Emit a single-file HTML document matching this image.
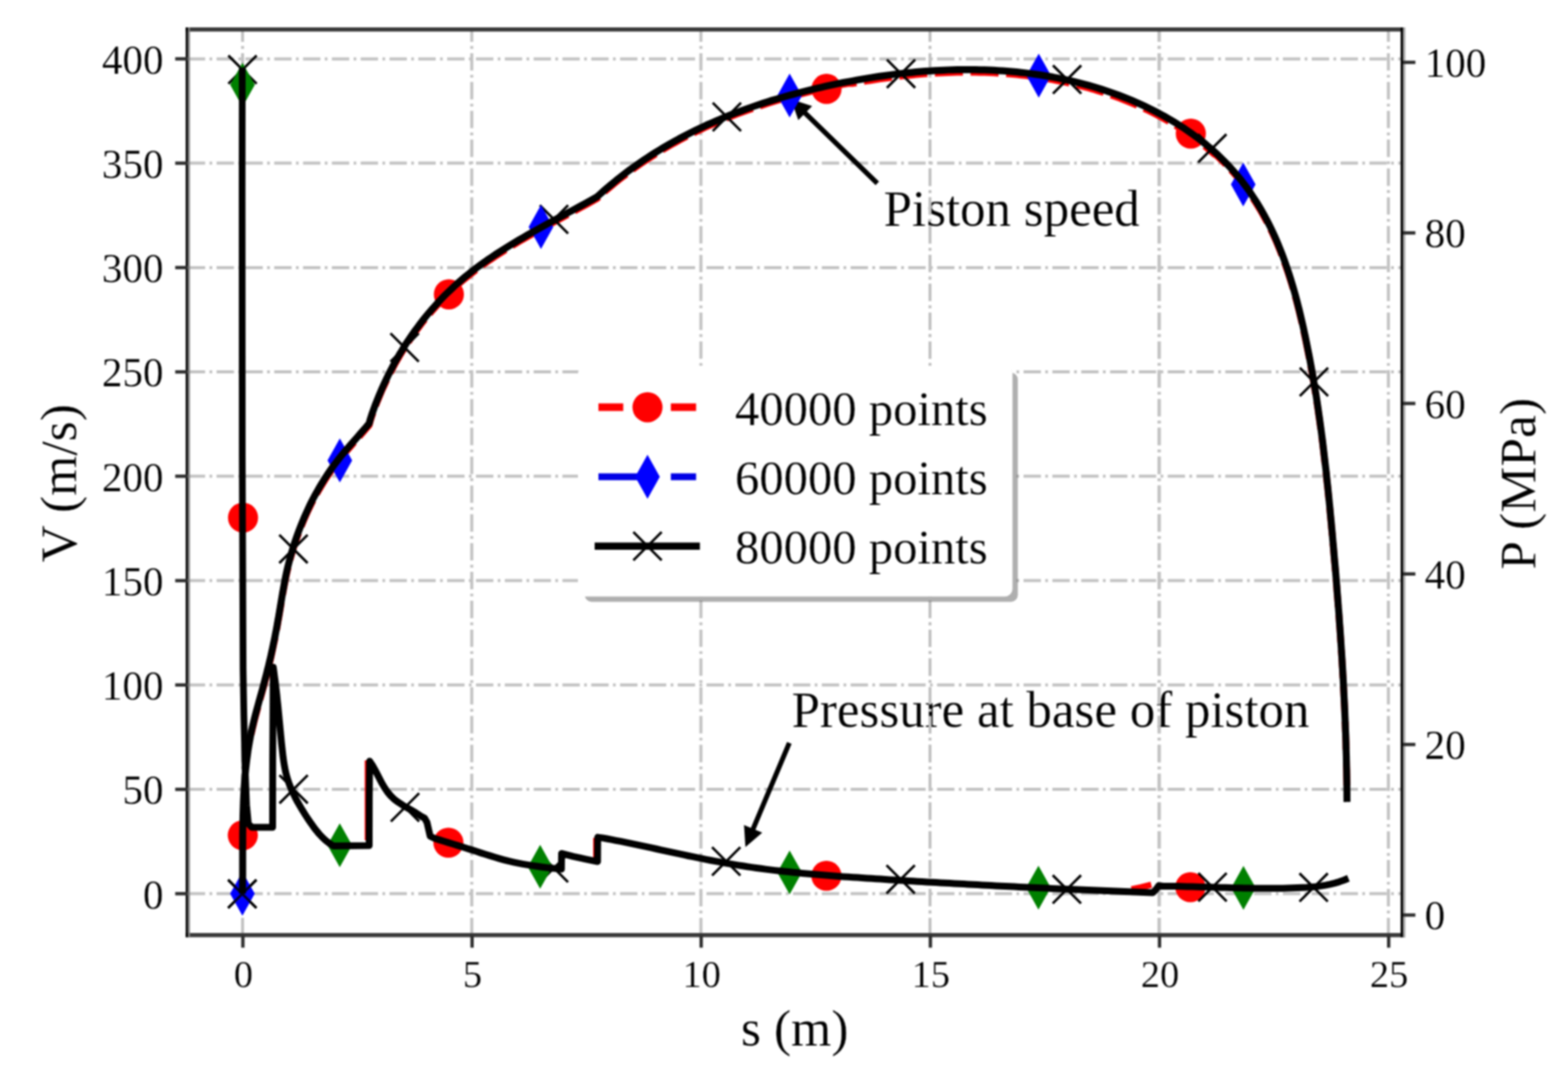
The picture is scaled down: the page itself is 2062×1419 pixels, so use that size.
<!DOCTYPE html>
<html lang="en"><head><meta charset="utf-8"><title>Piston speed and pressure at base of piston</title>
<style>html,body{margin:0;padding:0;background:#fff;}body{width:2062px;height:1419px;overflow:hidden;}svg{display:block;filter:blur(1.1px);}text{font-family:"Liberation Serif","Times New Roman",serif;fill:#000;stroke:#fff;stroke-width:0.25px;}</style>
</head><body>
<svg width="2062" height="1419" viewBox="0 0 2062 1419" role="img" aria-label="Piston speed and pressure at base of piston versus position">
<rect x="-20" y="-20" width="2102" height="1459" fill="#fff"/>
<g fill="none" stroke="#c2c2c2" stroke-width="4.0" stroke-dasharray="22.88 5.72 3.58 5.72">
<path d="M319 1229.8 V38.7"/>
<path d="M620.4 1229.8 V38.7"/>
<path d="M921.7 1229.8 V38.7"/>
<path d="M1223 1229.8 V38.7"/>
<path d="M1524.4 1229.8 V38.7"/>
<path d="M1825.8 1229.8 V38.7"/>
<path d="M246.9 1175.3 H1844.8"/>
<path d="M246.9 1038.1 H1844.8"/>
<path d="M246.9 900.8 H1844.8"/>
<path d="M246.9 763.6 H1844.8"/>
<path d="M246.9 626.3 H1844.8"/>
<path d="M246.9 489.1 H1844.8"/>
<path d="M246.9 351.9 H1844.8"/>
<path d="M246.9 214.6 H1844.8"/>
<path d="M246.9 77.4 H1844.8"/>
</g>
<g font-size="67">
<text x="1162" y="297.3">Piston speed</text>
<text x="1041" y="956.2">Pressure at base of piston</text>
</g>
<g fill="none" stroke="#c2c2c2" stroke-width="4.0" stroke-dasharray="22.88 5.72 3.58 5.72">
<path d="M1223 1229.8 V38.7"/>
<path d="M1524.4 1229.8 V38.7"/>
</g>
<g fill="none" stroke-linejoin="round" stroke="#ff0000" stroke-width="9">
<path d="M330.3 965.7 L331.6 959.8 L333 953.9 L334.4 948 L335.9 942.1 L337.5 936.2 L339.1 930.3 L340.7 924.5 L342.3 918.6 L344 912.7 L345.6 906.9 L347.2 901 L348.7 895.1 L350.3 889.2 L351.7 883.4 L353.2 877.5 L354.6 871.6 L356 865.7 L357.3 859.7 L358.6 853.8 L359.8 847.9 L361.1 842 L362.2 836 L363.4 830.1 L364.5 824.1 L365.5 818.1 L366.6 812.2 L367.6 806.2 L368.6 800.2 L369.6 794.2 L370.6 788.2 L371.6 782.3 L372.7 776.3 L373.8 770.3 L374.9 764.4 L376.1 758.4 L377.4 752.5 L378.8 746.6 L380.3 740.7 L381.8 734.8 L383.5 728.9 L385.2 723.1 L387 717.3 L389 711.5 L391 705.8 L393.1 700 L395.3 694.3 L397.6 688.7 L399.9 683.1 L402.4 677.5 L404.9 672 L407.5 666.5 L410.2 661.1 L413 655.7 L415.9 650.4 L418.9 645.1 L422 639.9 L425.1 634.8 L428.3 629.7 L431.7 624.6 L435.1 619.6 L438.6 614.7 L442.3 609.9 L446 605.1 L449.8 600.4 L453.7 595.7 L457.6 591.1 L461.6 586.5 L465.6 581.9 L469.6 577.4 L473.6 572.8 L477.6 568.2 L481.6 563.6 L485.5 559 L487.1 553 L489 547.1 L491.1 541.3 L493.2 535.5 L495.5 529.7 L497.8 524 L500.2 518.3 L502.6 512.6 L505.2 507 L507.8 501.4 L510.5 495.8 L513.2 490.3 L516.1 484.9 L519 479.4 L522 474.1 L525.1 468.7 L528.3 463.5 L531.5 458.2 L534.8 453 L538.2 447.9 L541.7 442.8 L545.2 437.8 L548.9 432.9 L552.5 428 L556.3 423.1 L560.1 418.3 L564 413.6 L568 409 L572.1 404.4 L576.2 399.9 L580.4 395.4 L584.6 391 L589 386.7 L593.4 382.5 L597.8 378.3 L602.4 374.2 L607 370.2 L611.6 366.3 L616.4 362.4 L621.2 358.6 L626 354.9 L631 351.3 L635.9 347.7 L640.9 344.1 L646 340.7 L651.1 337.2 L656.3 333.9 L661.5 330.6 L666.7 327.3 L671.9 324.1 L677.2 320.9 L682.5 317.7 L687.9 314.6 L693.2 311.5 L698.6 308.5 L704 305.4 L709.4 302.4 L714.8 299.4 L720.2 296.5 L725.7 293.5 L731.1 290.6 L736.5 287.7 L741.9 284.8 L747.3 281.8 L752.7 278.9 L758.1 276 L763.5 273.1 L768.8 270.2 L774.2 267.2 L779.5 264.3 L784.8 261.3 L789.3 257.3 L793.9 253.2 L798.5 249.2 L803.2 245.3 L807.9 241.4 L812.6 237.5 L817.4 233.8 L822.2 230.1 L827 226.5 L831.9 222.9 L836.8 219.4 L841.8 215.9 L846.8 212.5 L851.8 209.2 L856.9 205.9 L862 202.7 L867.1 199.6 L872.2 196.5 L877.4 193.4 L882.6 190.4 L887.9 187.5 L893.1 184.6 L898.4 181.8 L903.8 179 L909.1 176.3 L914.5 173.7 L919.9 171.1 L925.3 168.5 L930.8 166 L936.3 163.6 L941.8 161.2 L947.3 158.8 L952.9 156.5 L958.4 154.2 L964 152 L969.6 149.9 L975.3 147.8 L980.9 145.7 L986.6 143.7 L992.3 141.7 L998 139.8 L1003.7 137.9 L1009.5 136 L1015.2 134.2 L1021 132.5 L1026.8 130.8 L1032.6 129.1 L1038.4 127.5 L1044.2 125.9 L1050.1 124.3 L1055.9 122.8 L1061.8 121.3 L1067.7 119.9 L1073.6 118.5 L1079.5 117.1 L1085.4 115.8 L1091.3 114.5 L1097.2 113.2 L1103.1 112 L1109 110.8 L1115 109.7 L1120.9 109.8 L1126.9 108.7 L1132.8 107.6 L1138.8 106.6 L1144.8 105.7 L1150.7 104.7 L1156.7 103.8 L1162.7 103 L1168.7 102.2 L1174.6 101.4 L1180.6 100.6 L1186.6 99.9 L1192.6 99.3 L1198.6 98.7 L1204.6 98.1 L1210.6 97.6 L1216.6 97.1 L1222.6 96.7 L1228.6 96.3 L1234.7 96 L1240.7 95.7 L1246.7 95.4 L1252.7 95.2 L1258.7 95.1 L1264.7 95 L1270.7 95 L1276.8 95 L1282.8 95 L1288.8 95.2 L1294.8 95.3 L1300.8 95.6 L1306.8 95.8 L1312.9 96.2 L1318.9 96.6 L1324.9 97 L1330.9 97.5 L1336.9 98.1 L1342.9 98.7 L1348.9 99.4 L1354.8 100.2 L1360.8 101 L1366.8 101.8 L1372.7 102.8 L1378.7 103.8 L1384.6 104.8 L1390.5 106 L1396.4 107.1 L1402.3 108.4 L1408.2 109.7 L1414.1 111.1 L1419.9 112.6 L1425.7 114.1 L1431.6 115.7 L1437.3 117.3 L1443.1 119.1 L1448.9 120.9 L1454.6 122.7 L1460.3 124.7 L1466 126.7 L1471.7 128.8 L1477.3 131 L1482.9 133.2 L1488.5 135.5 L1494 137.9 L1499.6 140.4 L1505.1 142.9 L1510.5 145.5 L1516 148.2 L1521.4 151 L1526.7 153.9 L1532 156.8 L1537.3 159.8 L1542.5 162.9 L1547.7 166.1 L1552.8 169.3 L1557.9 172.6 L1562.9 176.1 L1567.8 179.5 L1572.7 183.1 L1577.5 186.8 L1582.3 190.5 L1587 194.3 L1591.6 198.2 L1596.1 202.2 L1600.6 205 L1604.9 209.2 L1609.2 213.4 L1613.4 217.7 L1617.5 222.1 L1621.5 226.5 L1625.5 231.1 L1629.3 235.7 L1633.1 240.4 L1636.7 245.2 L1640.3 250 L1643.8 254.9 L1647.1 259.9 L1650.4 264.9 L1653.6 270 L1656.7 275.1 L1659.7 280.3 L1662.6 285.5 L1665.5 290.8 L1668.2 296.1 L1670.9 301.5 L1673.5 306.9 L1676 312.3 L1678.4 317.8 L1680.7 323.3 L1683 328.9 L1685.2 334.5 L1687.4 340.1 L1689.4 345.8 L1691.4 351.5 L1693.4 357.2 L1695.3 363 L1697.1 368.7 L1698.9 374.5 L1700.6 380.3 L1702.3 386.2 L1703.9 392 L1705.5 397.9 L1707 403.8 L1708.5 409.7 L1709.9 415.6 L1711.3 421.5 L1712.7 427.4 L1714 433.3 L1715.3 439.3 L1716.6 445.2 L1717.8 451.1 L1719 457.1 L1720.2 463 L1721.4 469 L1722.5 474.9 L1723.6 480.8 L1724.7 486.8 L1725.8 492.7 L1726.8 498.7 L1727.8 504.6 L1728.8 510.6 L1729.8 516.5 L1730.8 522.5 L1731.7 528.4 L1732.6 534.4 L1733.5 540.3 L1734.3 546.3 L1735.2 552.2 L1736 558.2 L1736.8 564.1 L1737.6 570.1 L1738.4 576.1 L1739.2 582 L1739.9 588 L1740.6 594 L1741.3 599.9 L1742 605.9 L1742.7 611.9 L1743.4 617.9 L1744.1 623.8 L1744.7 629.8 L1745.3 635.8 L1746 641.8 L1746.6 647.8 L1747.2 653.7 L1747.8 659.7 L1748.4 665.7 L1749 671.7 L1749.5 677.7 L1750.1 683.7 L1750.7 689.7 L1751.2 695.7 L1751.8 701.7 L1752.3 707.7 L1752.8 713.7 L1753.4 719.7 L1753.9 725.7 L1754.4 731.7 L1754.9 737.7 L1755.5 743.7 L1756 749.7 L1756.5 755.7 L1757 761.7 L1757.5 767.8 L1758 773.8 L1758.4 779.8 L1758.9 785.8 L1759.4 791.8 L1759.8 797.9 L1760.3 803.9 L1760.8 809.9 L1761.2 815.9 L1761.6 822 L1762.1 828 L1762.5 834 L1762.9 840 L1763.3 846.1 L1763.7 852.1 L1764.1 858.1 L1764.5 864.2 L1764.9 870.2 L1765.2 876.2 L1765.6 882.2 L1765.9 888.3 L1766.3 894.3 L1766.6 900.3 L1766.9 906.4 L1767.2 912.4 L1767.5 918.4 L1767.8 924.5 L1768.1 930.5 L1768.4 936.5 L1768.6 942.5 L1768.9 948.6 L1769.1 954.6 L1769.3 960.6 L1769.6 966.7 L1769.8 972.7 L1770 978.7 L1770.1 984.7 L1770.3 990.8 L1770.5 996.8 L1770.6 1002.8 L1770.7 1008.8 L1770.9 1014.8 L1771 1020.9 L1771.1 1026.9 L1771.2 1032.9 L1771.2 1038.9" stroke-dasharray="37 10"/>
<path d="M1488 1169.5 L1500 1167 L1514 1163.5" stroke-width="8"/>
<path d="M483.6 1105 V1000 M784 1128 V1102" stroke-width="8"/>
</g>
<g fill="#ff0000">
<circle cx="319.3" cy="1098.5" r="19.8"/>
<circle cx="590.3" cy="387.1" r="19.8"/>
<circle cx="1086.9" cy="116.9" r="19.8"/>
<circle cx="1566" cy="175.7" r="19.8"/>
<circle cx="319.6" cy="680.8" r="19.8"/>
<circle cx="589.7" cy="1108.2" r="19.8"/>
<circle cx="1086.8" cy="1151.8" r="19.8"/>
<circle cx="1565.4" cy="1166.7" r="19.8"/>
</g>
<path d="M1153.7 241.2 L1058.2 148.1" stroke="#000" stroke-width="6.5" fill="none"/><path d="M1040.3 130.6 L1068 139.4 L1049.8 158.1Z" fill="#000"/>
<path d="M1038 977 L990 1090.9" stroke="#000" stroke-width="6.5" fill="none"/><path d="M980.3 1113.9 L978.4 1084.9 L1002.4 1095Z" fill="#000"/>
<path fill="none" stroke="#000" stroke-width="3.3" d="M300 1157 L337.2 1194.2 M300 1194.2 L337.2 1157 M367.3 703.3 L404.5 740.5 M367.3 740.5 L404.5 703.3 M513.5 438.4 L550.7 475.6 M513.5 475.6 L550.7 438.4 M709.9 269.9 L747.1 307.1 M709.9 307.1 L747.1 269.9 M937.3 135.2 L974.5 172.4 M937.3 172.4 L974.5 135.2 M1166.3 78.3 L1203.5 115.5 M1166.3 115.5 L1203.5 78.3 M1384.7 86 L1421.9 123.2 M1384.7 123.2 L1421.9 86 M1575.6 176.5 L1612.8 213.7 M1575.6 213.7 L1612.8 176.5 M1709.3 483.7 L1746.5 520.9 M1709.3 520.9 L1746.5 483.7 M300.3 73 L337.5 110.2 M300.3 110.2 L337.5 73 M367.5 1019.3 L404.7 1056.5 M367.5 1056.5 L404.7 1019.3 M514 1043.1 L551.2 1080.3 M514 1080.3 L551.2 1043.1 M709.8 1122.9 L747 1160.1 M709.8 1160.1 L747 1122.9 M936.4 1114.1 L973.6 1151.3 M936.4 1151.3 L973.6 1114.1 M1165.8 1137.8 L1203 1175 M1165.8 1175 L1203 1137.8 M1384.4 1151 L1421.6 1188.2 M1384.4 1188.2 L1421.6 1151 M1575.9 1148.1 L1613.1 1185.3 M1575.9 1185.3 L1613.1 1148.1 M1708.9 1148.5 L1746.1 1185.7 M1708.9 1185.7 L1746.1 1148.5"/>
<path fill="#0000ff" d="M318.8 1146.4 L335 1175.3 L318.8 1204.2 L302.6 1175.3Z M446.9 576.6 L463.1 605.5 L446.9 634.4 L430.7 605.5Z M711.4 269.6 L727.6 298.5 L711.4 327.4 L695.2 298.5Z M1038.4 96.8 L1054.6 125.7 L1038.4 154.6 L1022.2 125.7Z M1366 70.6 L1382.2 99.5 L1366 128.4 L1349.8 99.5Z M1634.9 213.7 L1651.1 242.6 L1634.9 271.5 L1618.7 242.6Z"/>
<path fill="#008000" d="M318.9 82.6 L335.1 111.5 L318.9 140.4 L302.7 111.5Z M446.8 1082.7 L463 1111.6 L446.8 1140.5 L430.6 1111.6Z M710.3 1111 L726.5 1139.9 L710.3 1168.8 L694.1 1139.9Z M1038.4 1118.4 L1054.6 1147.3 L1038.4 1176.2 L1022.2 1147.3Z M1365.6 1138.4 L1381.8 1167.3 L1365.6 1196.2 L1349.4 1167.3Z M1635.2 1138.8 L1651.4 1167.7 L1635.2 1196.6 L1619 1167.7Z"/>
<g fill="none" stroke="#000" stroke-width="9.2" stroke-linejoin="round" stroke-linecap="butt">
<path d="M318.8 1175.2 L318.9 1169.2 L319 1163.2 L319 1157.1 L319.1 1151.1 L319.1 1145 L319.1 1139 L319.1 1132.9 L319.1 1126.8 L319.1 1120.7 L319.1 1114.6 L319.2 1108.6 L319.2 1102.5 L319.2 1096.4 L319.3 1090.3 L319.4 1084.2 L319.5 1078.1 L319.6 1072 L319.8 1065.9 L320 1059.8 L320.2 1053.8 L320.5 1047.7 L320.8 1041.6 L321.1 1035.6 L321.6 1029.5 L322 1023.4 L322.5 1017.4 L323.1 1011.4 L323.8 1005.3 L324.5 999.3 L325.3 993.3 L326.1 987.3 L327.1 981.3 L328.1 975.4 L329.2 969.4 L330.3 963.5 L331.6 957.6 L333 951.7 L334.4 945.8 L335.9 939.9 L337.5 934 L339.1 928.1 L340.7 922.3 L342.3 916.4 L344 910.5 L345.6 904.7 L347.2 898.8 L348.7 892.9 L350.3 887 L351.7 881.2 L353.2 875.3 L354.6 869.4 L356 863.5 L357.3 857.5 L358.6 851.6 L359.8 845.7 L361.1 839.8 L362.2 833.8 L363.4 827.9 L364.5 821.9 L365.5 815.9 L366.6 810 L367.6 804 L368.6 798 L369.6 792 L370.6 786 L371.6 780.1 L372.7 774.1 L373.8 768.1 L374.9 762.2 L376.1 756.2 L377.4 750.3 L378.8 744.4 L380.3 738.5 L381.8 732.6 L383.5 726.7 L385.2 720.9 L387 715.1 L389 709.3 L391 703.6 L393.1 697.8 L395.3 692.1 L397.6 686.5 L399.9 680.9 L402.4 675.3 L404.9 669.8 L407.5 664.3 L410.2 658.9 L413 653.5 L415.9 648.2 L418.9 642.9 L422 637.7 L425.1 632.6 L428.3 627.5 L431.7 622.4 L435.1 617.4 L438.6 612.5 L442.3 607.7 L446 602.9 L449.8 598.2 L453.7 593.5 L457.6 588.9 L461.6 584.3 L465.6 579.7 L469.6 575.2 L473.6 570.6 L477.6 566 L481.6 561.4 L485.5 556.8 L487.1 550.8 L489 544.9 L491.1 539.1 L493.2 533.3 L495.5 527.5 L497.8 521.8 L500.2 516.1 L502.6 510.4 L505.2 504.8 L507.8 499.2 L510.5 493.6 L513.2 488.1 L516.1 482.7 L519 477.2 L522 471.9 L525.1 466.5 L528.3 461.3 L531.5 456 L534.8 450.8 L538.2 445.7 L541.7 440.6 L545.2 435.6 L548.9 430.7 L552.5 425.8 L556.3 420.9 L560.1 416.1 L564 411.4 L568 406.8 L572.1 402.2 L576.2 397.7 L580.4 393.2 L584.6 388.8 L589 384.5 L593.4 380.3 L597.8 376.1 L602.4 372 L607 368 L611.6 364.1 L616.4 360.2 L621.2 356.4 L626 352.7 L631 349.1 L635.9 345.5 L640.9 341.9 L646 338.5 L651.1 335 L656.3 331.7 L661.5 328.4 L666.7 325.1 L671.9 321.9 L677.2 318.7 L682.5 315.5 L687.9 312.4 L693.2 309.3 L698.6 306.3 L704 303.2 L709.4 300.2 L714.8 297.2 L720.2 294.3 L725.7 291.3 L731.1 288.4 L736.5 285.5 L741.9 282.6 L747.3 279.6 L752.7 276.7 L758.1 273.8 L763.5 270.9 L768.8 268 L774.2 265 L779.5 262.1 L784.8 259.1 L789.3 255.1 L793.9 251 L798.5 247 L803.2 243.1 L807.9 239.2 L812.6 235.3 L817.4 231.6 L822.2 227.9 L827 224.3 L831.9 220.7 L836.8 217.2 L841.8 213.7 L846.8 210.3 L851.8 207 L856.9 203.7 L862 200.5 L867.1 197.4 L872.2 194.3 L877.4 191.2 L882.6 188.2 L887.9 185.3 L893.1 182.4 L898.4 179.6 L903.8 176.8 L909.1 174.1 L914.5 171.5 L919.9 168.9 L925.3 166.3 L930.8 163.8 L936.3 161.4 L941.8 159 L947.3 156.6 L952.9 154.3 L958.4 152 L964 149.8 L969.6 147.7 L975.3 145.6 L980.9 143.5 L986.6 141.5 L992.3 139.5 L998 137.6 L1003.7 135.7 L1009.5 133.8 L1015.2 132 L1021 130.3 L1026.8 128.6 L1032.6 126.9 L1038.4 125.3 L1044.2 123.7 L1050.1 122.1 L1055.9 120.6 L1061.8 119.1 L1067.7 117.7 L1073.6 116.3 L1079.5 114.9 L1085.4 113.6 L1091.3 112.3 L1097.2 111 L1103.1 109.8 L1109 108.6 L1115 107.5 L1120.9 106.4 L1126.9 105.3 L1132.8 104.2 L1138.8 103.2 L1144.8 102.3 L1150.7 101.3 L1156.7 100.4 L1162.7 99.6 L1168.7 98.8 L1174.6 98 L1180.6 97.2 L1186.6 96.5 L1192.6 95.9 L1198.6 95.3 L1204.6 94.7 L1210.6 94.2 L1216.6 93.7 L1222.6 93.3 L1228.6 92.9 L1234.7 92.6 L1240.7 92.3 L1246.7 92 L1252.7 91.8 L1258.7 91.7 L1264.7 91.6 L1270.7 91.6 L1276.8 91.6 L1282.8 91.6 L1288.8 91.8 L1294.8 91.9 L1300.8 92.2 L1306.8 92.4 L1312.9 92.8 L1318.9 93.2 L1324.9 93.6 L1330.9 94.1 L1336.9 94.7 L1342.9 95.3 L1348.9 96 L1354.8 96.8 L1360.8 97.6 L1366.8 98.4 L1372.7 99.4 L1378.7 100.4 L1384.6 101.4 L1390.5 102.6 L1396.4 103.7 L1402.3 105 L1408.2 106.3 L1414.1 107.7 L1419.9 109.2 L1425.7 110.7 L1431.6 112.3 L1437.3 113.9 L1443.1 115.7 L1448.9 117.5 L1454.6 119.3 L1460.3 121.3 L1466 123.3 L1471.7 125.4 L1477.3 127.6 L1482.9 129.8 L1488.5 132.1 L1494 134.5 L1499.6 137 L1505.1 139.5 L1510.5 142.1 L1516 144.8 L1521.4 147.6 L1526.7 150.5 L1532 153.4 L1537.3 156.4 L1542.5 159.5 L1547.7 162.7 L1552.8 165.9 L1557.9 169.2 L1562.9 172.7 L1567.8 176.1 L1572.7 179.7 L1577.5 183.4 L1582.3 187.1 L1587 190.9 L1591.6 194.8 L1596.1 198.8 L1600.6 202.8 L1604.9 207 L1609.2 211.2 L1613.4 215.5 L1617.5 219.9 L1621.5 224.3 L1625.5 228.9 L1629.3 233.5 L1633.1 238.2 L1636.7 243 L1640.3 247.8 L1643.8 252.7 L1647.1 257.7 L1650.4 262.7 L1653.6 267.8 L1656.7 272.9 L1659.7 278.1 L1662.6 283.3 L1665.5 288.6 L1668.2 293.9 L1670.9 299.3 L1673.5 304.7 L1676 310.1 L1678.4 315.6 L1680.7 321.1 L1683 326.7 L1685.2 332.3 L1687.4 337.9 L1689.4 343.6 L1691.4 349.3 L1693.4 355 L1695.3 360.8 L1697.1 366.5 L1698.9 372.3 L1700.6 378.1 L1702.3 384 L1703.9 389.8 L1705.5 395.7 L1707 401.6 L1708.5 407.5 L1709.9 413.4 L1711.3 419.3 L1712.7 425.2 L1714 431.1 L1715.3 437.1 L1716.6 443 L1717.8 448.9 L1719 454.9 L1720.2 460.8 L1721.4 466.8 L1722.5 472.7 L1723.6 478.6 L1724.7 484.6 L1725.8 490.5 L1726.8 496.5 L1727.8 502.4 L1728.8 508.4 L1729.8 514.3 L1730.8 520.3 L1731.7 526.2 L1732.6 532.2 L1733.5 538.1 L1734.3 544.1 L1735.2 550 L1736 556 L1736.8 561.9 L1737.6 567.9 L1738.4 573.9 L1739.2 579.8 L1739.9 585.8 L1740.6 591.8 L1741.3 597.7 L1742 603.7 L1742.7 609.7 L1743.4 615.7 L1744.1 621.6 L1744.7 627.6 L1745.3 633.6 L1746 639.6 L1746.6 645.6 L1747.2 651.5 L1747.8 657.5 L1748.4 663.5 L1749 669.5 L1749.5 675.5 L1750.1 681.5 L1750.7 687.5 L1751.2 693.5 L1751.8 699.5 L1752.3 705.5 L1752.8 711.5 L1753.4 717.5 L1753.9 723.5 L1754.4 729.5 L1754.9 735.5 L1755.5 741.5 L1756 747.5 L1756.5 753.5 L1757 759.5 L1757.5 765.6 L1758 771.6 L1758.4 777.6 L1758.9 783.6 L1759.4 789.6 L1759.8 795.7 L1760.3 801.7 L1760.8 807.7 L1761.2 813.7 L1761.6 819.8 L1762.1 825.8 L1762.5 831.8 L1762.9 837.8 L1763.3 843.9 L1763.7 849.9 L1764.1 855.9 L1764.5 862 L1764.9 868 L1765.2 874 L1765.6 880 L1765.9 886.1 L1766.3 892.1 L1766.6 898.1 L1766.9 904.2 L1767.2 910.2 L1767.5 916.2 L1767.8 922.3 L1768.1 928.3 L1768.4 934.3 L1768.6 940.3 L1768.9 946.4 L1769.1 952.4 L1769.3 958.4 L1769.6 964.5 L1769.8 970.5 L1770 976.5 L1770.1 982.5 L1770.3 988.6 L1770.5 994.6 L1770.6 1000.6 L1770.7 1006.6 L1770.9 1012.6 L1771 1018.7 L1771.1 1024.7 L1771.2 1030.7 L1771.2 1036.7 L1771.3 1042.7 L1771.3 1048.7 L1771.4 1054.7"/>
<path d="M318.6 88.5 L318.4 250 L318.6 600 L319.7 880 L320.7 940 L322.3 1010 L324.3 1060" stroke-width="8.8"/>
<path d="M324.3 1060 L326.5 1083 L331 1088 L358.5 1088 L358.6 1000 L359.4 877.5 L360.2 883.7 L361 889.9 L361.9 896.1 L362.6 902.3 L363.4 908.6 L364.1 914.8 L364.7 921 L365.4 927.3 L366 933.5 L366.6 939.7 L367.2 946 L367.8 952.2 L368.4 958.5 L369 964.7 L369.6 970.9 L370.2 977.2 L370.9 983.4 L371.6 989.7 L372.3 995.9 L373.2 1002.1 L374.2 1008.2 L375.4 1014.3 L376.9 1020.3 L378.7 1026.3 L380.8 1032.2 L383.1 1037.9 L385.7 1043.6 L388.5 1049.3 L391.4 1054.8 L394.6 1060.3 L397.8 1065.7 L401.2 1071.1 L404.6 1076.4 L408.2 1081.6 L411.8 1086.7 L415.5 1091.7 L419.5 1096.5 L423.7 1101 L428.2 1105.2 L433.1 1109.1 L438.4 1112.5 L485.5 1112 L485.6 1050 L486.1 1001 L489.8 1006.5 L493.1 1012.4 L496.2 1018.4 L499.3 1024.4 L502.4 1030.3 L505.8 1036 L509.5 1041.5 L513.7 1046.5 L518.4 1051.1 L523.8 1055.1 L529.5 1058.8 L535.5 1062.3 L541.4 1065.7 L547.2 1069.2 L552.7 1072.8 L558.4 1076 L561.5 1081.5 L565.7 1099.8 L571.4 1102.5 L577.4 1104.4 L583.5 1106.3 L589.6 1108.1 L595.7 1110 L601.8 1111.9 L607.9 1113.8 L614 1115.7 L620.1 1117.6 L626.1 1119.6 L632.2 1121.6 L638.3 1123.5 L644.4 1125.4 L650.5 1127.3 L656.6 1129.1 L662.8 1130.8 L669 1132.4 L675.2 1133.8 L681.4 1135.1 L687.7 1136.3 L693.9 1137.4 L700.2 1138.4 L706.6 1139.3 L712.9 1140.2 L719.2 1141 L725.6 1141.7 L732 1142.4 L738.3 1143 L738.5 1122.4 L754 1126.3 L770 1129.8 L785.8 1133.1 L786 1101.1 L792 1101.9 L798 1103 L804 1104.1 L809.9 1105.3 L815.9 1106.4 L821.8 1107.6 L827.8 1108.9 L833.7 1110.1 L839.7 1111.4 L845.6 1112.6 L851.6 1113.9 L857.5 1115.2 L863.5 1116.5 L869.4 1117.8 L875.4 1119.1 L881.3 1120.4 L887.2 1121.7 L893.2 1122.9 L899.1 1124.2 L905.1 1125.5 L911 1126.7 L917 1127.9 L923 1129.1 L928.9 1130.3 L934.9 1131.5 L940.9 1132.6 L946.8 1133.7 L952.8 1134.8 L958.8 1135.9 L964.8 1136.9 L970.7 1137.9 L976.7 1138.8 L982.7 1139.8 L988.7 1140.6 L994.7 1141.5 L1000.8 1142.3 L1006.8 1143.1 L1012.8 1143.9 L1018.8 1144.6 L1024.8 1145.3 L1030.9 1146 L1036.9 1146.6 L1042.9 1147.2 L1049 1147.8 L1055 1148.4 L1061.1 1149 L1067.1 1149.5 L1073.2 1150 L1079.2 1150.5 L1085.3 1151 L1091.3 1151.5 L1097.4 1152 L1103.4 1152.4 L1109.5 1152.9 L1115.5 1153.3 L1121.6 1153.7 L1127.7 1154.1 L1133.7 1154.5 L1139.8 1154.9 L1145.9 1155.3 L1151.9 1155.7 L1158 1156.1 L1164 1156.5 L1170.1 1156.9 L1176.2 1157.3 L1182.2 1157.7 L1188.3 1158.1 L1194.4 1158.4 L1200.4 1158.8 L1206.5 1159.2 L1212.6 1159.5 L1218.6 1159.9 L1224.7 1160.3 L1230.8 1160.6 L1236.8 1161 L1242.9 1161.3 L1249 1161.6 L1255 1162 L1261.1 1162.3 L1267.2 1162.6 L1273.2 1163 L1279.3 1163.3 L1285.4 1163.6 L1291.5 1163.9 L1297.5 1164.3 L1303.6 1164.6 L1309.7 1164.9 L1315.7 1165.2 L1321.8 1165.5 L1327.9 1165.8 L1333.9 1166.1 L1340 1166.4 L1346.1 1166.7 L1352.1 1167 L1358.2 1167.3 L1364.3 1167.5 L1370.4 1167.8 L1376.4 1168.1 L1382.5 1168.4 L1388.6 1168.7 L1394.6 1168.9 L1400.7 1169.2 L1406.8 1169.5 L1412.8 1169.7 L1418.9 1170 L1425 1170.3 L1431 1170.5 L1437.1 1170.8 L1443.2 1171 L1449.2 1171.3 L1455.3 1171.5 L1461.4 1171.8 L1467.4 1172 L1473.5 1172.3 L1479.6 1172.5 L1485.6 1172.7 L1491.7 1173 L1497.8 1173.2 L1503.8 1173.4 L1509.9 1173.7 L1516 1173.9 L1520 1170 L1523.7 1164.8 L1530 1165.4 L1536.2 1165.4 L1542.5 1165.5 L1548.8 1165.6 L1555 1165.8 L1561.3 1165.9 L1567.6 1166.1 L1573.9 1166.2 L1580.1 1166.4 L1586.4 1166.6 L1592.7 1166.8 L1599 1167 L1605.3 1167.2 L1611.6 1167.3 L1617.9 1167.5 L1624.2 1167.7 L1630.5 1167.8 L1636.8 1168 L1643 1168.1 L1649.3 1168.2 L1655.6 1168.3 L1661.9 1168.3 L1668.2 1168.3 L1674.5 1168.3 L1680.8 1168.3 L1687.1 1168.2 L1693.4 1168 L1699.6 1167.8 L1705.9 1167.6 L1712.2 1167.3 L1718.4 1167 L1724.7 1166.5 L1730.9 1165.9 L1737.1 1165.1 L1743.2 1164.1 L1749.3 1162.9 L1755.4 1161.4 L1761.4 1159.6 L1767.3 1157.5 L1773.2 1155" stroke-linejoin="round" stroke-width="9.0"/>
</g>
<path fill="none" stroke="#000" stroke-width="3.3" stroke-opacity="0.85" d="M300 1157 L337.2 1194.2 M300 1194.2 L337.2 1157"/>
<g fill="none">
<path d="M244.1 38.7 H1848" stroke="#3a3a3a" stroke-width="5.6"/>
<path d="M244.1 1229.8 H1848" stroke="#3a3a3a" stroke-width="5.6"/>
<path d="M245.8 35.9 V1232.6" stroke="#000" stroke-width="3.2"/>
<path d="M248.6 35.9 V1232.6" stroke="#808080" stroke-width="2.4"/>
<path d="M1843.5 35.9 V1232.6" stroke="#000" stroke-width="3.2"/>
<path d="M1846.6 35.9 V1232.6" stroke="#a4a4a4" stroke-width="3.0"/>
</g>
<g stroke="#2e2e2e" stroke-width="4.4" fill="none">
<path d="M319.4 1229.8 v16.5"/>
<path d="M620.8 1229.8 v16.5"/>
<path d="M922.1 1229.8 v16.5"/>
<path d="M1223.5 1229.8 v16.5"/>
<path d="M1524.8 1229.8 v16.5"/>
<path d="M1826.2 1229.8 v16.5"/>
<path d="M246.9 1175.3 h-16.5"/>
<path d="M246.9 1038.1 h-16.5"/>
<path d="M246.9 900.8 h-16.5"/>
<path d="M246.9 763.6 h-16.5"/>
<path d="M246.9 626.3 h-16.5"/>
<path d="M246.9 489.1 h-16.5"/>
<path d="M246.9 351.9 h-16.5"/>
<path d="M246.9 214.6 h-16.5"/>
<path d="M246.9 77.4 h-16.5"/>
<path d="M1844.8 1203.4 h16.5"/>
<path d="M1844.8 979.1 h16.5"/>
<path d="M1844.8 754.8 h16.5"/>
<path d="M1844.8 530.6 h16.5"/>
<path d="M1844.8 306.3 h16.5"/>
<path d="M1844.8 82 h16.5"/>
</g>
<g font-size="54">
<text x="320" y="1297.8" font-size="50.5" text-anchor="middle">0</text>
<text x="621.4" y="1297.8" font-size="50.5" text-anchor="middle">5</text>
<text x="922.7" y="1297.8" font-size="50.5" text-anchor="middle">10</text>
<text x="1224" y="1297.8" font-size="50.5" text-anchor="middle">15</text>
<text x="1525.4" y="1297.8" font-size="50.5" text-anchor="middle">20</text>
<text x="1826.8" y="1297.8" font-size="50.5" text-anchor="middle">25</text>
<text x="215" y="1194.5" text-anchor="end">0</text>
<text x="215" y="1057.3" text-anchor="end">50</text>
<text x="215" y="920" text-anchor="end">100</text>
<text x="215" y="782.8" text-anchor="end">150</text>
<text x="215" y="645.5" text-anchor="end">200</text>
<text x="215" y="508.3" text-anchor="end">250</text>
<text x="215" y="371.1" text-anchor="end">300</text>
<text x="215" y="233.8" text-anchor="end">350</text>
<text x="215" y="96.6" text-anchor="end">400</text>
<text x="1873.5" y="1222.4" text-anchor="start">0</text>
<text x="1873.5" y="998.1" text-anchor="start">20</text>
<text x="1873.5" y="773.8" text-anchor="start">40</text>
<text x="1873.5" y="549.6" text-anchor="start">60</text>
<text x="1873.5" y="325.3" text-anchor="start">80</text>
<text x="1873.5" y="101" text-anchor="start">100</text>
</g>
<g font-size="68">
<text x="1045" y="1374.5" text-anchor="middle">s (m)</text>
<text transform="translate(100.2 635.5) rotate(-90)" text-anchor="middle">V (m/s)</text>
<text transform="translate(2019.0 636.2) rotate(-90)" text-anchor="middle">P (MPa)</text>
</g>
<rect x="769" y="490" width="569.5" height="301.5" rx="9" ry="9" fill="#4d4d4d" fill-opacity="0.45"/>
<rect x="761" y="482" width="569.5" height="301.5" rx="9" ry="9" fill="#fff" stroke="#fff" stroke-width="2"/>
<path d="M787 535.6 H819.6 M882.2 535.6 H915.4" stroke="#ff0000" stroke-width="10" fill="none"/>
<circle cx="851.5" cy="535.6" r="19.8" fill="#ff0000"/>
<path d="M787 627 H850 M882.2 627 H915.4" stroke="#0000e6" stroke-width="9" fill="none"/>
<path fill="#0000ff" d="M851.5 598.1 L867.7 627 L851.5 655.9 L835.3 627Z"/>
<path d="M782 718.3 H920.4" stroke="#000" stroke-width="9.6" fill="none"/>
<path fill="none" stroke="#000" stroke-width="3.3" d="M832.9 699.7 L870.1 736.9 M832.9 736.9 L870.1 699.7"/>
<g font-size="64">
<text x="966.5" y="558.7">40000 points</text>
<text x="966.5" y="649.8">60000 points</text>
<text x="966.5" y="740.6">80000 points</text>
</g>
</svg>
</body></html>
